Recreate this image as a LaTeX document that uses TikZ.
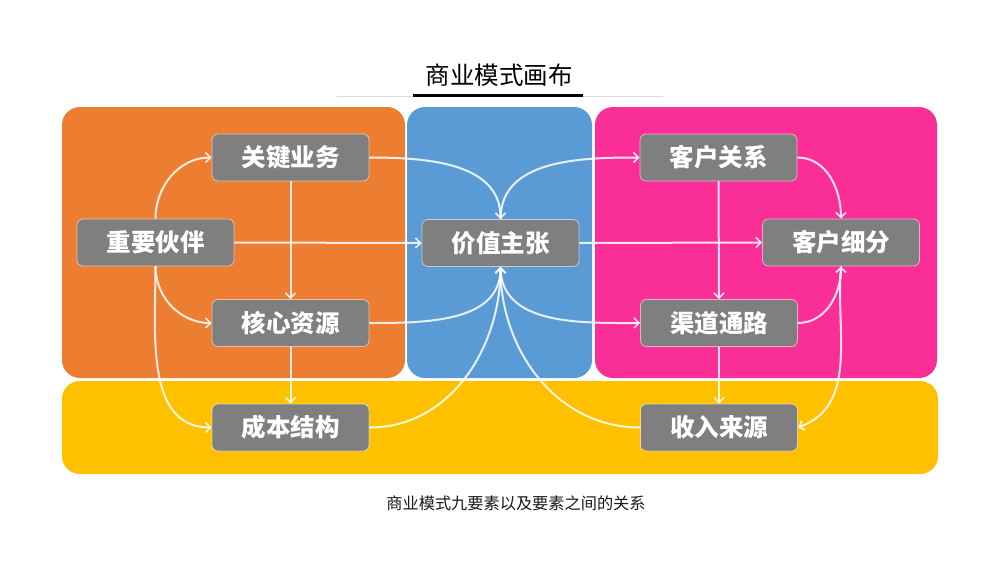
\documentclass[tikz,border=0pt]{standalone}
\usepackage{fontspec}
\newfontfamily\cjk{Noto Sans CJK SC}
\usetikzlibrary{arrows.meta}
\definecolor{cOrange}{HTML}{ED7D31}
\definecolor{cBlue}{HTML}{5B9BD5}
\definecolor{cPink}{HTML}{F92E96}
\definecolor{cYellow}{HTML}{FFC000}
\definecolor{cGray}{HTML}{7F7F7F}
\definecolor{cLine}{HTML}{D9D9D9}
\tikzset{
  panel/.style={rounded corners=18pt, draw=none},
  elem/.style={rectangle, rounded corners=6pt, fill=cGray, draw=white, draw opacity=0.55, line width=0.8pt,
    minimum width=157pt, minimum height=47pt, inner sep=0pt, text=white,
    font=\cjk\bfseries\fontsize{24.5}{28}\selectfont},
  link/.style={draw=white, draw opacity=0.85, line width=2pt},
  arr/.style={link, -{Straight Barb[length=5pt,width=10pt,line width=1.6pt]}},
}
\begin{document}
\begin{tikzpicture}[x=1pt,y=-1pt]
\useasboundingbox (0,0) rectangle (1000,562);
\fill[white] (0,0) rectangle (1000,562);
% panels
\fill[panel, fill=cOrange] (62,107) rectangle (405,378);
\fill[panel, fill=cBlue] (407,107) rectangle (592,378);
\fill[panel, fill=cPink] (595,107) rectangle (937,378);
\fill[panel, fill=cYellow] (62,381) rectangle (938,474);
% title
\node[font=\cjk\fontsize{24.5}{28}\selectfont, text=black] (title) at (499,75) {商业模式画布};
\draw[cLine, line width=1pt] (337,96) -- (663,96);
\draw[black, line width=3pt] (413,95) -- (583,95);
\node[font=\cjk\fontsize{16.2}{18}\selectfont, text=black!90] (caption) at (516,503) {商业模式九要素以及要素之间的关系};
% nodes
\node[elem] (kp) at (155.5,242.5) {重要伙伴};
\node[elem] (ka) at (290.5,157.5) {关键业务};
\node[elem] (kr) at (290.5,323) {核心资源};
\node[elem] (cost) at (290.5,427.5) {成本结构};
\node[elem] (vp) at (500.5,243) {价值主张};
\node[elem] (cr) at (718.5,157.5) {客户关系};
\node[elem] (ch) at (719,323) {渠道通路};
\node[elem] (rev) at (719,427.5) {收入来源};
\node[elem] (cs) at (841,242.5) {客户细分};
% connectors
\draw[arr] (kp.north) to[out=90,in=180] (ka.west);
\draw[arr] (kp.south) to[out=-90,in=180] (kr.west);
\draw[arr] (kp.south) to[out=-90,in=180] (cost.west);
\draw[arr] (kp.east) -- (vp.west);
\draw[arr] (ka.south) -- (kr.north);
\draw[arr] (kr.south) -- (cost.north);
\draw[arr] (ka.east) to[out=0,in=90] (vp.north);
\draw[arr] (kr.east) to[out=0,in=-90] (vp.south);
\draw[arr] (cost.east) to[out=0,in=-90] (vp.south);
\draw[arr] (rev.west) to[out=180,in=-90] (vp.south);
\draw[arr] (vp.north) to[out=90,in=180] (cr.west);
\draw[arr] (vp.east) -- (cs.west);
\draw[arr] (vp.south) to[out=-90,in=180] (ch.west);
\draw[arr] (cr.south) -- (ch.north);
\draw[arr] (ch.south) -- (rev.north);
\draw[arr] (cr.east) to[out=0,in=90] (cs.north);
\draw[arr] (ch.east) to[out=0,in=-90] (cs.south);
\draw[arr] (cs.south) to[out=-95,in=20] (rev.east);
\end{tikzpicture}
\end{document}
